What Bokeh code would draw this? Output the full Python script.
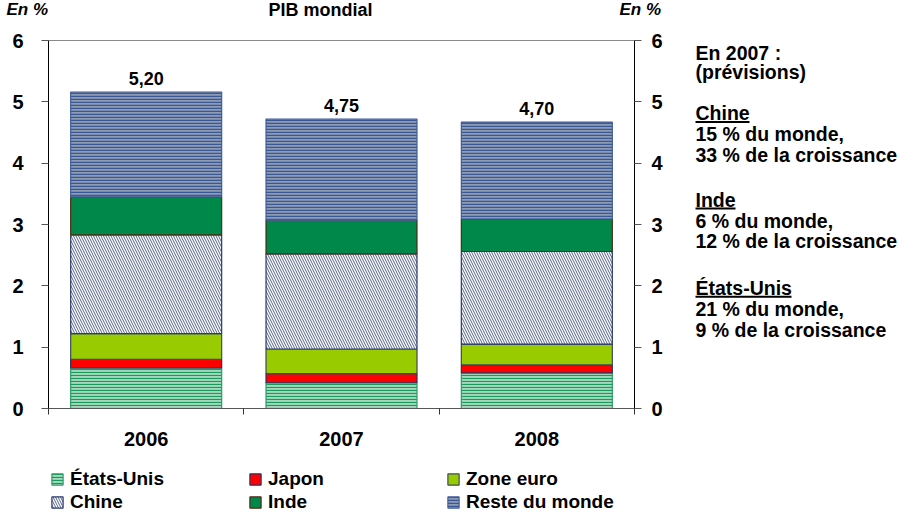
from bokeh.plotting import figure
from bokeh.layouts import column, row
from bokeh.models import (Range1d, FixedTicker, LinearAxis, Legend, LegendItem, ColumnDataSource)
from bokeh.core.properties import value
from bokeh.embed import file_html
from bokeh.resources import INLINE

# ---------------- data ----------------
years = ["2006", "2007", "2008"]
etats_unis = [0.66, 0.42, 0.58]
japon = [0.14, 0.15, 0.13]
zone_euro = [0.42, 0.40, 0.34]
chine = [1.61, 1.55, 1.51]
inde = [0.62, 0.55, 0.53]
reste_du_monde = [1.71, 1.65, 1.58]
total_labels = ["5,20", "4,75", "4,70"]
series_names = ["États-Unis", "Japon", "Zone euro", "Chine", "Inde", "Reste du monde"]
y_ticks = [0, 1, 2, 3, 4, 5, 6]

notes = ["En 2007 :", "(prévisions)", "Chine", "15 % du monde,", "33 % de la croissance",
         "Inde", "6 % du monde,", "12 % de la croissance",
         "États-Unis", "21 % du monde,", "9 % de la croissance"]
underlined = ["Chine", "Inde", "États-Unis"]

# ---------------- styles ----------------
FONT = "Liberation Sans"
keys = ["us", "jp", "eu", "cn", "ind", "rw"]
fills = ["#a3d8bd", "#ff0000", "#99cc00", "#ffffff", "#00884a", "#8e9bb5"]
lines = ["#2a9d68", "#27335e", "#3c4a5c", "#2a3b6b", "#4e2c12", "#3f5d9b"]
hatches = ["horizontal_line", None, None, "left_diagonal_line", None, "horizontal_line"]
hatch_colors = ["#1a9a5c", None, None, "#2a3b6b", None, "#3a5894"]
hatch_scales = [3, 12, 12, 5, 12, 3]
hatch_weights = [1.2, 1, 1, 0.8, 1, 1.5]


def bar_style(i):
    kw = dict(fill_color=fills[i], line_color=lines[i], line_width=1.2)
    if hatches[i]:
        kw.update(hatch_pattern=hatches[i], hatch_color=hatch_colors[i],
                  hatch_scale=hatch_scales[i], hatch_weight=hatch_weights[i])
    return kw


TOTAL_W, TOTAL_H = 899, 514
TOP_H = 28
MAIN_W = 680
MAIN_H = 425
LEG_H = TOTAL_H - TOP_H - MAIN_H
NOTES_W = TOTAL_W - MAIN_W


def blank_fig(w, h):
    f = figure(width=w, height=h, x_range=Range1d(0, w), y_range=Range1d(h, 0),
               output_backend="svg", toolbar_location=None, x_axis_type=None, y_axis_type=None,
               min_border=0, outline_line_color=None)
    f.grid.visible = False
    return f


# ---------------- top strip ----------------
top = blank_fig(TOTAL_W, TOP_H)
top_src = ColumnDataSource(dict(x=[6, 320, 619], y=[9, 9, 9], t=["En %", "PIB mondial", "En %"],
                                st=["bold italic", "bold", "bold italic"], al=["left", "center", "left"],
                                fs=["17px", "18px", "17px"]))
top.text(x="x", y="y", text="t", source=top_src, text_font=value(FONT), text_font_style="st",
         text_align="al", text_baseline="middle", text_font_size="fs", text_color="black")

# ---------------- main chart ----------------
x_pos = [i + 0.5 for i in range(len(years))]
src = ColumnDataSource(dict(x=x_pos))

p = figure(width=MAIN_W, height=MAIN_H, x_range=Range1d(0, 3), y_range=Range1d(0, 6),
           output_backend="svg", toolbar_location=None,
           min_border_left=48, min_border_right=MAIN_W - 634,
           min_border_top=12, min_border_bottom=MAIN_H - 12 - 368)
p.grid.visible = False
p.outline_line_color = "#8a8a8a"

bottoms = [0.0] * len(years)
series_vals = [etats_unis, japon, zone_euro, chine, inde, reste_du_monde]
for i, k in enumerate(keys):
    tops = [b + v for b, v in zip(bottoms, series_vals[i])]
    src.data[k + "_b"] = list(bottoms)
    src.data[k + "_t"] = tops
    p.vbar(x="x", bottom=k + "_b", top=k + "_t", width=0.773, source=src, **bar_style(i))
    bottoms = tops

src.data["total"] = bottoms
src.data["lab"] = total_labels
p.text(x="x", y="total", text="lab", source=src, text_align="center",
       text_baseline="middle", y_offset=-14, text_font_size="18px",
       text_font=value(FONT), text_font_style="bold", text_color="black")


def style_y(ax, standoff):
    ax.ticker = FixedTicker(ticks=y_ticks)
    ax.major_tick_out = 7
    ax.major_tick_in = 0
    ax.minor_tick_out = 0
    ax.minor_tick_in = 0
    ax.axis_line_color = "black"
    ax.major_tick_line_color = "#555555"
    ax.major_label_text_font = FONT
    ax.major_label_text_font_style = "bold"
    ax.major_label_text_font_size = "20px"
    ax.major_label_text_color = "black"
    ax.major_label_standoff = standoff


style_y(p.yaxis[0], 18)
right = LinearAxis()
style_y(right, 10)
p.add_layout(right, "right")

xa = p.xaxis[0]
xa.ticker = FixedTicker(ticks=x_pos, minor_ticks=[0, 1, 2, 3])
xa.major_label_overrides = {x: y for x, y in zip(x_pos, years)}
xa.major_tick_out = 0
xa.major_tick_in = 0
xa.minor_tick_out = 6
xa.minor_tick_in = 0
xa.minor_tick_line_color = "#333333"
xa.axis_line_color = "#555555"
xa.major_label_text_font = FONT
xa.major_label_text_font_style = "bold"
xa.major_label_text_font_size = "20px"
xa.major_label_text_color = "black"
xa.major_label_standoff = 17

# ---------------- notes on the right ----------------
notes_fig = blank_fig(NOTES_W, MAIN_H)
note_y = [15, 36, 84, 108, 132, 184, 208, 232, 286, 310, 334]
notes_fig.text(x=[15] * len(notes), y=note_y, text=notes, text_font=value(FONT), text_font_style="bold",
               text_font_size="19.5px", text_baseline="middle", text_color="black")
uw = {"Chine": 54, "Inde": 40, "États-Unis": 96}
ux0, ux1, uy = [], [], []
for t, yy in zip(notes, note_y):
    if t in underlined:
        ux0.append(15)
        ux1.append(15 + uw[t])
        uy.append(yy + 10)
notes_fig.segment(x0=ux0, y0=uy, x1=ux1, y1=uy, line_color="black", line_width=2)

# ---------------- legend strip ----------------
leg_fig = blank_fig(TOTAL_W, LEG_H)
leg_src = ColumnDataSource(dict(x=[-5000], b=[-5000], t=[-4999]))
leg_renderers = []
for i in range(len(keys)):
    r = leg_fig.vbar(x="x", bottom="b", top="t", width=1, source=leg_src, **bar_style(i))
    r.visible = False
    leg_renderers.append(r)
legend = Legend(items=[LegendItem(label=n, renderers=[r]) for n, r in zip(series_names, leg_renderers)],
                orientation="horizontal", ncols=3, location=(50, 1),
                glyph_width=14, glyph_height=14, label_standoff=6, label_width=178,
                label_height=23, spacing=0, padding=0, margin=0,
                border_line_color=None, background_fill_alpha=0, inactive_fill_alpha=0,
                label_text_font=FONT, label_text_font_style="bold",
                label_text_font_size="19px", label_text_color="black")
leg_fig.add_layout(legend, "center")

layout = column(top, row(p, notes_fig), leg_fig)
open("out.html", "w").write(file_html(layout, INLINE))
